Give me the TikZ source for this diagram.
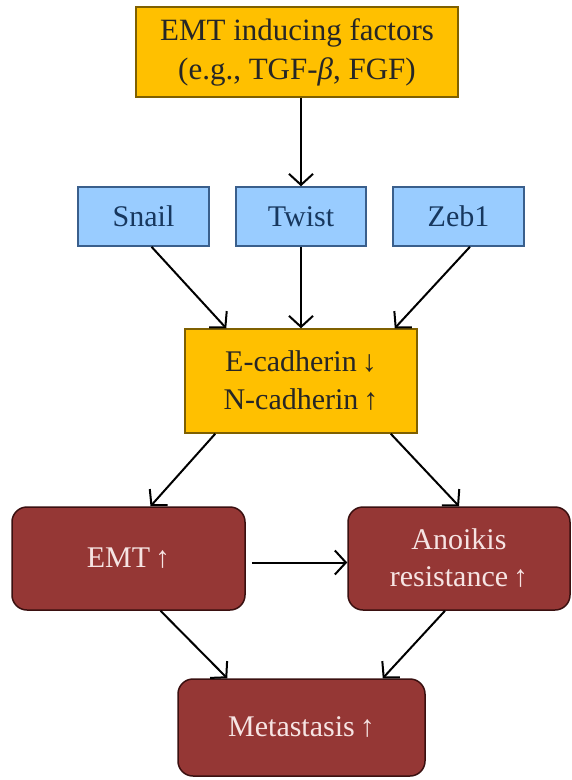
\documentclass[tikz,border=0pt]{standalone}
\usepackage{fontspec}
\setmainfont{Liberation Serif}
\usetikzlibrary{arrows.meta}
\definecolor{gold}{HTML}{FFC000}
\definecolor{goldline}{HTML}{7F6000}
\definecolor{sky}{HTML}{99CCFF}
\definecolor{skyline}{HTML}{3A5F8C}
\definecolor{skytext}{HTML}{17375E}
\definecolor{brick}{HTML}{953735}
\definecolor{brickline}{HTML}{3A1010}
\definecolor{pinktext}{HTML}{F6E4E3}
\begin{document}
\begin{tikzpicture}[x=1pt,y=-1pt,
  goldbox/.style={draw=goldline,fill=gold,line width=1.5pt,align=center,inner sep=0pt,
     font=\fontsize{31}{39}\selectfont,text=black!85},
  skybox/.style={draw=skyline,fill=sky,line width=1.5pt,align=center,inner sep=0pt,
     minimum height=59pt,font=\fontsize{30}{36}\selectfont,text=skytext},
  brickbox/.style={draw=brickline,fill=brick,line width=1.5pt,rounded corners=15pt,align=center,
     inner sep=0pt,font=\fontsize{30}{37}\selectfont,text=pinktext},
  arr/.style={line width=2pt,-{Straight Barb[length=11pt,width=24pt]}}]
\useasboundingbox (0,0) rectangle (572,780);
\node[goldbox,minimum width=322pt,minimum height=90pt] (top) at (297,52)
  {EMT inducing factors\\(e.g., TGF-\textit{β}, FGF)};
\node[skybox,minimum width=131pt] (snail) at (143.5,216.5) {Snail};
\node[skybox,minimum width=130pt] (twist) at (301,216.5) {Twist};
\node[skybox,minimum width=131pt] (zeb) at (458.5,216.5) {Zeb1};
\node[goldbox,minimum width=232pt,minimum height=104pt,font=\fontsize{30}{38}\selectfont] (ecad) at (301,381)
  {E-cadherin\,↓\\N-cadherin\,↑};
\node[brickbox,minimum width=233pt,minimum height=103pt] (emt) at (128.5,558.5) {EMT\,↑};
\node[brickbox,minimum width=222pt,minimum height=103pt] (ano) at (459,558.5)
  {Anoikis\\resistance\,↑};
\node[brickbox,minimum width=247pt,minimum height=97pt] (meta) at (301.5,727.5) {Metastasis\,↑};
\draw[arr] (top.south -| twist.north) -- (twist.north);
\draw[arr] ([xshift=8pt]snail.south) -- ([xshift=42pt]ecad.north west);
\draw[arr] (twist.south) -- (twist.south |- ecad.north);
\draw[arr] ([xshift=11.5pt]zeb.south) -- ([xshift=-23pt]ecad.north east);
\draw[arr] ([xshift=31pt]ecad.south west) -- ([xshift=22pt]emt.north);
\draw[arr] ([xshift=-27pt]ecad.south east) -- (ano.north);
\coordinate (emtout) at ([xshift=6pt,yshift=-4pt]emt.east);
\draw[arr] (emtout) -- (emtout -| ano.west);
\draw[arr] ([xshift=32pt]emt.south) -- ([xshift=50pt]meta.north west);
\draw[arr] ([xshift=-14pt]ano.south) -- ([xshift=-43pt]meta.north east);
\end{tikzpicture}
\end{document}
